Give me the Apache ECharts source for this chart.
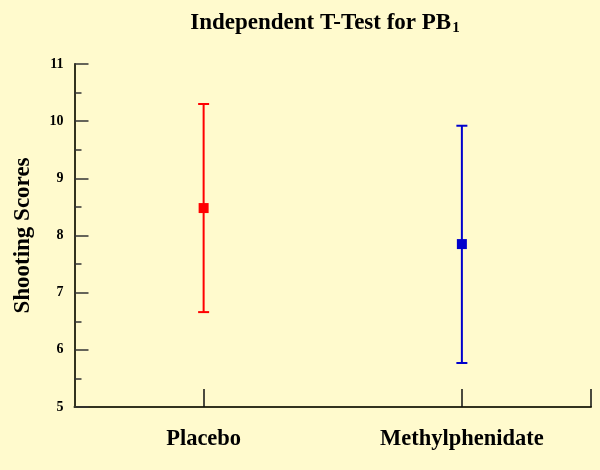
<!DOCTYPE html>
<html>
<head>
<meta charset="utf-8">
<script src="https://cdn.jsdelivr.net/npm/echarts@6/dist/echarts.min.js"></script>
<style>
  html, body { margin: 0; padding: 0; background: #FFFACD; }
  #chart { width: 600px; height: 470px; }
</style>
</head>
<body>
<div id="chart"></div>
<script>
// data
const categories = ['Placebo', 'Methylphenidate']
const positions = [1, 2]
const means = [8.48, 7.85]
const lows = [6.66, 5.77]
const highs = [10.30, 9.92]
const yTicks = [5, 6, 7, 8, 9, 10, 11]

const colors = ['#FF0000', '#0000CC']
const serif = 'Liberation Serif, Times New Roman, serif'

const chart = echarts.init(document.getElementById('chart'))

const seriesData = categories.map((c, i) => [positions[i], means[i], lows[i], highs[i]])

const option = {
  backgroundColor: '#FFFACD',
  animation: false,
  title: {
    text: 'Independent T-Test for PB{sub|1}',
    left: 320,
    textAlign: 'center',
    top: 6,
    textStyle: {
      fontFamily: serif,
      fontWeight: 'bold',
      fontSize: 23,
      color: '#000',
      rich: {
        sub: {
          fontFamily: serif,
          fontWeight: 'bold',
          fontSize: 15,
          color: '#000',
          verticalAlign: 'bottom',
          padding: [10, 0, 0, 1]
        }
      }
    }
  },
  grid: {
    left: 74.5,
    right: 9,
    top: 64,
    bottom: 63,
    containLabel: false
  },
  xAxis: {
    type: 'value',
    min: 0.5,
    max: 2.5,
    axisLine: { show: true, lineStyle: { color: '#33331f', width: 2 } },
    axisTick: {
      show: true,
      inside: true,
      length: 18,
      customValues: [1, 2, 2.5],
      lineStyle: { color: '#111', width: 1.5 }
    },
    axisLabel: {
      customValues: positions,
      formatter: v => categories[positions.indexOf(v)] || '',
      fontFamily: serif,
      fontWeight: 'bold',
      fontSize: 22.5,
      color: '#000',
      margin: 21
    },
    splitLine: { show: false }
  },
  yAxis: {
    type: 'value',
    min: yTicks[0],
    max: yTicks[yTicks.length - 1],
    interval: 1,
    name: 'Shooting Scores',
    nameLocation: 'middle',
    nameGap: 40,
    nameTextStyle: {
      fontFamily: serif,
      fontWeight: 'bold',
      fontSize: 23,
      color: '#000'
    },
    axisLine: { show: true, lineStyle: { color: '#33331f', width: 2 } },
    axisTick: {
      show: true,
      inside: true,
      length: 14,
      lineStyle: { color: '#333', width: 1.5 }
    },
    minorTick: {
      show: true,
      splitNumber: 2,
      length: 7,
      lineStyle: { color: '#333', width: 1.5 }
    },
    axisLabel: {
      fontFamily: serif,
      fontWeight: 'bold',
      fontSize: 14,
      color: '#000',
      margin: 11
    },
    splitLine: { show: false }
  },
  series: [{
    type: 'custom',
    data: seriesData,
    renderItem: (params, api) => {
      const x = api.value(0)
      const pM = api.coord([x, api.value(1)])
      const pLo = api.coord([x, api.value(2)])
      const pHi = api.coord([x, api.value(3)])
      const color = colors[params.dataIndex]
      const cap = 5.5
      const m = 5
      const stroke = { stroke: color, lineWidth: 2 }
      return {
        type: 'group',
        children: [
          { type: 'line', shape: { x1: pHi[0], y1: pHi[1], x2: pLo[0], y2: pLo[1] }, style: stroke },
          { type: 'line', shape: { x1: pHi[0] - cap, y1: pHi[1], x2: pHi[0] + cap, y2: pHi[1] }, style: stroke },
          { type: 'line', shape: { x1: pLo[0] - cap, y1: pLo[1], x2: pLo[0] + cap, y2: pLo[1] }, style: stroke },
          { type: 'rect', shape: { x: pM[0] - m, y: pM[1] - m, width: 2 * m, height: 2 * m }, style: { fill: color } }
        ]
      }
    }
  }]
}

chart.setOption(option)
</script>
</body>
</html>
